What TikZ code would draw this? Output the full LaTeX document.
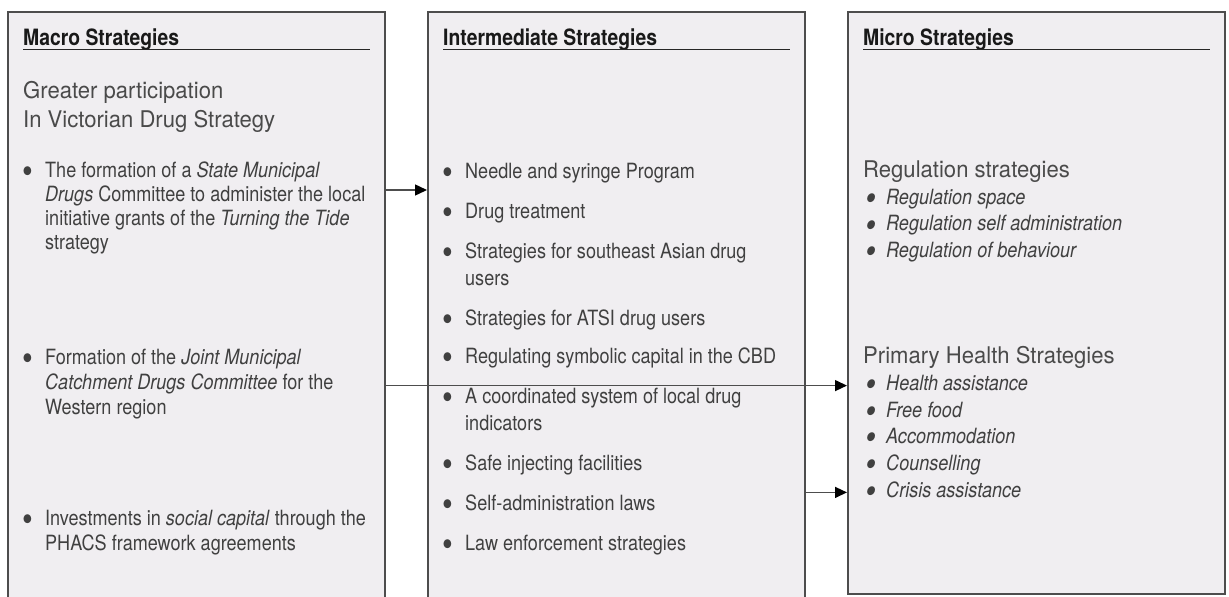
\documentclass[tikz,border=0pt]{standalone}
\usepackage{fontspec}
\usepackage{graphicx}
\usepackage{tikz}
\usetikzlibrary{arrows.meta}

\newfontfamily\heros{TeX Gyre Heros}[FakeStretch=0.86]
\newfontfamily\herosw{TeX Gyre Heros}[FakeStretch=0.96]

\definecolor{panelfill}{HTML}{F0EEF1}
\definecolor{panelline}{HTML}{4D4D4D}
\definecolor{inktext}{HTML}{404040}
\definecolor{leadtext}{HTML}{4A4A4A}

% bullets hanging left of the item text
\newcommand{\dotmark}{\raisebox{-6.5pt}{\scalebox{1.7}{\textbullet}}}
\newcommand{\bul}{\llap{\dotmark\hspace{11.5pt}}}
\newcommand{\ibul}{\llap{\dotmark\hspace{9.5pt}}}

\begin{document}
\begin{tikzpicture}[x=1pt, y=-1pt,
  panel/.style={draw=panelline, fill=panelfill, line width=1.6pt, minimum width=377pt, anchor=north west, inner sep=0pt},
  head/.style={anchor=base west, inner sep=0pt, text=black!90, font=\heros\bfseries\fontsize{22.5}{24}\selectfont},
  rule/.style={draw=black!85, line width=1pt},
  lead/.style={anchor=base west, inner sep=0pt, align=left, text=leadtext, font=\herosw\fontsize{23}{29}\selectfont},
  item/.style={anchor=base west, inner sep=0pt, align=left, text=inktext, font=\heros\fontsize{21}{24}\selectfont},
  subitem/.style={item, font=\heros\itshape\fontsize{21}{26.5}\selectfont},
  link/.style={draw=panelline, line width=1.4pt, -{Triangle[length=12pt, width=11pt, color=black]}}
]

\useasboundingbox (0,0) rectangle (1229,597);
\clip (0,0) rectangle (1229,597);

% (multi-line nodes sit on the baseline of their last line)

%
% Macro column
%
\node[panel, minimum height=620pt] (macro) at (7,11) {};

\path (23,45) node[head] (machd) {Macro Strategies};
\draw[rule] ([shift={(16,38)}]macro.north west) -- ([shift={(-16,38)}]macro.north east);

\path (23,127) node[lead] (macld) {Greater participation\\In Victorian Drug Strategy};

\path (45,249) node[item] (mac1) {\bul The formation of a \emph{State Municipal}\\\emph{Drugs} Committee to administer the local\\initiative grants of the \emph{Turning the Tide}\\strategy};

\path (45,414) node[item, font=\heros\fontsize{21}{25}\selectfont] (mac2) {\bul Formation of the \emph{Joint Municipal}\\\emph{Catchment Drugs Committee} for the\\Western region};

\path (45,550) node[item, font=\heros\fontsize{21}{25}\selectfont] (mac3) {\bul Investments in \emph{social capital} through the\\PHACS framework agreements};


%
% Intermediate column
%
\node[panel, minimum height=620pt] (inter) at (427,11) {};

\path (443,45) node[head] (inthd) {Intermediate Strategies};
\draw[rule] ([shift={(16,38)}]inter.north west) -- ([shift={(-16,38)}]inter.north east);

\path (465,178) node[item] (int1) {\bul Needle and syringe Program};
\path (465,218) node[item] (int2) {\bul Drug treatment};
\path (465,285) node[item, font=\heros\fontsize{21}{27}\selectfont] (int3) {\bul Strategies for southeast Asian drug\\users};
\path (465,325) node[item] (int4) {\bul Strategies for ATSI drug users};
\path (465,363) node[item] (int5) {\bul Regulating symbolic capital in the CBD};
\path (465,430) node[item, font=\heros\fontsize{21}{27}\selectfont] (int6) {\bul A coordinated system of local drug\\indicators};
\path (465,470) node[item] (int7) {\bul Safe injecting facilities};
\path (465,510) node[item] (int8) {\bul Self-administration laws};
\path (465,550) node[item] (int9) {\bul Law enforcement strategies};


%
% Micro column
%
\node[panel, minimum height=582pt] (micro) at (847,11) {};

\path (863,45) node[head] (michd) {Micro Strategies};
\draw[rule] ([shift={(16,38)}]micro.north west) -- ([shift={(-16,38)}]micro.north east);

% regulation
\path (863,177) node[lead] (regld) {Regulation strategies};
\path (886,257) node[subitem] (reg) {\ibul Regulation space\\\ibul Regulation self administration\\\ibul Regulation of behaviour};

% primary health
\path (863,363) node[lead] (phld) {Primary Health Strategies};
\path (886,390) node[subitem] (hlth) {\ibul Health assistance};
\path (886,417) node[subitem] (food) {\ibul Free food};
\path (886,443) node[subitem] (accom) {\ibul Accommodation};
\path (886,470) node[subitem] (couns) {\ibul Counselling};
\path (886,497) node[subitem] (crisis) {\ibul Crisis assistance};


%
% Links between the columns
%
\draw[link] (macro.east |- 0,190) -- (inter.west |- 0,190);
\draw[link] (macro.east |- hlth) -- (micro.west |- hlth);
\draw[link] (inter.east |- crisis) -- (micro.west |- crisis);

\end{tikzpicture}
\end{document}
